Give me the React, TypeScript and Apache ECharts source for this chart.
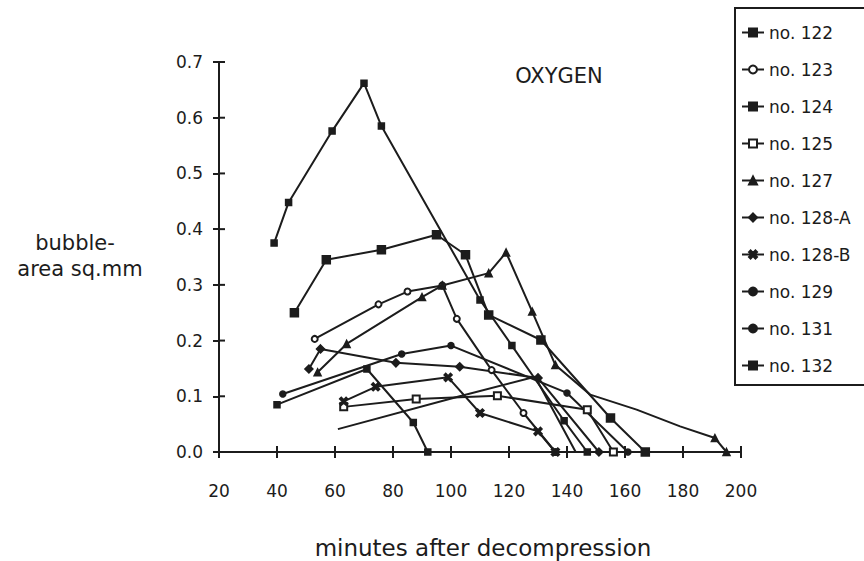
import React, { useEffect, useRef } from "react";
import * as echarts from "echarts";

// minutes after decompression, bubble area (sq.mm)
const seriesNames = ["no. 122", "no. 123", "no. 124", "no. 125", "no. 127", "no. 128-A", "no. 128-B", "no. 129", "no. 131", "no. 132"];

const s122 = [[39, 0.375], [44, 0.448], [59, 0.576], [70, 0.662], [76, 0.585], [110, 0.273], [121, 0.191], [139, 0.056], [147, 0]];
const s123 = [[53, 0.203], [75, 0.265], [85, 0.288], [97, 0.299], [102, 0.239], [114, 0.147], [125, 0.07], [136, 0]];
const s124 = [[46, 0.25], [57, 0.345], [76, 0.363], [95, 0.39], [105, 0.354], [113, 0.246], [131, 0.201], [155, 0.061], [167, 0]];
const s125 = [[63, 0.081], [88, 0.095], [116, 0.101], [147, 0.076], [156, 0]];
const s127 = [[54, 0.143], [64, 0.194], [90, 0.278], [97, 0.299], [113, 0.321], [119, 0.358], [128, 0.252], [136, 0.156], [148, 0.103], [164, 0.076], [179, 0.046], [191, 0.025], [195, 0]];
const s127Unmarked = [8, 9, 10];
const s128A = [[51, 0.149], [55, 0.185], [81, 0.16], [103, 0.153], [130, 0.133], [151, 0]];
const s128B = [[63, 0.091], [74, 0.117], [99, 0.134], [110, 0.07], [130, 0.037], [136, 0]];
const s129 = [[42, 0.104], [83, 0.176], [100, 0.191], [140, 0.106], [161, 0]];
const s131 = [[61, 0.041], [103, 0.1], [129, 0.135], [143, 0]];
const s132 = [[40, 0.085], [71, 0.149], [87, 0.053], [92, 0]];

const xTicks = [20, 40, 60, 80, 100, 120, 140, 160, 180, 200];
const yTicks = [0, 0.1, 0.2, 0.3, 0.4, 0.5, 0.6, 0.7];

const INK = "#1c1c1c";
const FONT = "DejaVu Sans";
const XSYM = "path://M0,2L2,0L5,3L8,0L10,2L7,5L10,8L8,10L5,7L2,10L0,8L3,5Z";

export default function App() {
  const ref = useRef<HTMLDivElement>(null);
  useEffect(() => {
    if (!ref.current) return;
    const chart = echarts.init(ref.current, undefined, { renderer: "svg" });

    const defs: { name: string; data: any[]; symbol: string; size: number }[] = [
      { name: seriesNames[0], data: s122, symbol: "rect", size: 6 },
      { name: seriesNames[1], data: s123, symbol: "emptyCircle", size: 6 },
      { name: seriesNames[2], data: s124, symbol: "rect", size: 8 },
      { name: seriesNames[3], data: s125, symbol: "emptyRect", size: 7 },
      {
        name: seriesNames[4],
        data: s127.map((p, i) => (s127Unmarked.includes(i) ? { value: p, symbol: "none" } : p)),
        symbol: "triangle",
        size: 7,
      },
      { name: seriesNames[5], data: s128A, symbol: "diamond", size: 8 },
      { name: seriesNames[6], data: s128B, symbol: XSYM, size: 8 },
      { name: seriesNames[7], data: s129, symbol: "circle", size: 6 },
      { name: seriesNames[8], data: s131, symbol: "none", size: 0 },
      { name: seriesNames[9], data: s132, symbol: "rect", size: 6 },
    ];

    const xMin = xTicks[0];
    const xMax = xTicks[xTicks.length - 1];
    const xInt = xTicks[1] - xTicks[0];
    const yMax = yTicks[yTicks.length - 1];
    const TICK = 6;

    const textGraphics: any[] = [
      {
        type: "rect",
        shape: { x: 735, y: 8, width: 200, height: 377 },
        style: { fill: "none", stroke: INK, lineWidth: 2 },
        silent: true,
      },
      {
        type: "text",
        x: 559,
        y: 76,
        style: { text: "OXYGEN", fill: INK, font: `21px '${FONT}'`, textAlign: "center", textVerticalAlign: "middle" },
      },
      {
        type: "text",
        x: 75,
        y: 243,
        style: { text: "bubble-", fill: INK, font: `21px '${FONT}'`, textAlign: "center", textVerticalAlign: "middle" },
      },
      {
        type: "text",
        x: 80,
        y: 269,
        style: { text: "area sq.mm", fill: INK, font: `21px '${FONT}'`, textAlign: "center", textVerticalAlign: "middle" },
      },
      {
        type: "text",
        x: 483,
        y: 548,
        style: { text: "minutes after decompression", fill: INK, font: `23px '${FONT}'`, textAlign: "center", textVerticalAlign: "middle" },
      },
    ];

    chart.setOption({
      animation: false,
      backgroundColor: "#ffffff",
      grid: { left: 219, top: 62, width: 522, height: 390, containLabel: false },
      xAxis: {
        type: "value",
        min: xMin,
        max: xMax,
        interval: xInt,
        axisLine: { show: true, onZero: false, lineStyle: { color: INK, width: 2 } },
        axisTick: { show: true, length: TICK, lineStyle: { color: INK, width: 2 } },
        axisLabel: { color: INK, fontFamily: FONT, fontSize: 17, margin: 30 },
        splitLine: { show: false },
      },
      yAxis: {
        type: "value",
        min: 0,
        max: yMax,
        interval: 0.1,
        axisLine: { show: true, onZero: false, lineStyle: { color: INK, width: 2 } },
        axisTick: { show: true, length: TICK, lineStyle: { color: INK, width: 2 } },
        axisLabel: { color: INK, fontFamily: FONT, fontSize: 17, margin: 16, formatter: (v: number) => v.toFixed(1) },
        splitLine: { show: false },
      },
      legend: {
        orient: "vertical",
        left: 741,
        top: 24,
        itemWidth: 22,
        itemHeight: 10,
        itemGap: 20,
        padding: 0,
        data: seriesNames,
        textStyle: { color: INK, fontFamily: FONT, fontSize: 17, lineHeight: 17 },
      },
      graphic: textGraphics,
      series: defs.map((d) => ({
        name: d.name,
        type: "line",
        data: d.data,
        symbol: d.symbol,
        symbolSize: d.size,
        showSymbol: d.symbol !== "none",
        lineStyle: { color: INK, width: 2 },
        itemStyle: { color: INK, borderColor: INK, borderWidth: 1.5 },
        emphasis: { disabled: true },
      })),
    });

    // inner halves of the crossing tick marks, placed through the chart's own scales
    const tickMarks: any[] = [];
    xTicks.forEach((v) => {
      const p = chart.convertToPixel({ gridIndex: 0 }, [v, 0]) as number[];
      tickMarks.push({
        type: "rect",
        silent: true,
        shape: { x: p[0] - 1, y: p[1] - TICK, width: 2, height: TICK },
        style: { fill: INK },
      });
    });
    yTicks.forEach((v) => {
      const p = chart.convertToPixel({ gridIndex: 0 }, [xMin, v]) as number[];
      tickMarks.push({
        type: "rect",
        silent: true,
        shape: { x: p[0], y: p[1] - 1, width: TICK, height: 2 },
        style: { fill: INK },
      });
    });
    chart.setOption({ graphic: [...textGraphics, ...tickMarks] });

    return () => chart.dispose();
  }, []);

  return <div ref={ref} style={{ position: "fixed", left: 0, top: 0, width: 864, height: 561 }} />;
}
